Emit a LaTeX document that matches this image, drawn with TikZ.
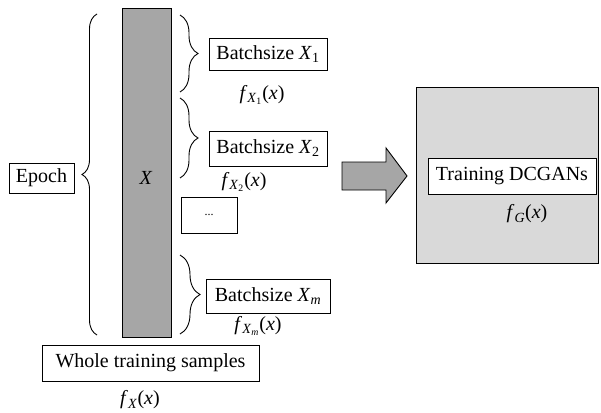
\documentclass[tikz,border=0pt]{standalone}
\usepackage{fontspec}
\setmainfont{Liberation Serif}
\usetikzlibrary{decorations.pathreplacing}

% f with a (possibly nested) italic subscript, set in text fonts
\newcommand{\fsub}[2]{\textit{f}\textsubscript{\textit{#1}\textsubscript{#2}}(\textit{x})}

\definecolor{colgray}{HTML}{A6A6A6}
\definecolor{arrowgray}{HTML}{A6A6A6}
\definecolor{panelgray}{HTML}{D9D9D9}

\tikzset{
  every node/.style={font=\fontsize{20}{24}\selectfont},
  tbox/.style={draw, fill=white, line width=0.9pt, inner sep=0pt, anchor=center},
  flabel/.style={inner sep=0pt, anchor=center},
  bracket/.style={decorate, line width=0.9pt},
}

\begin{document}
\begin{tikzpicture}[x=1pt, y=-1pt]
  \useasboundingbox (0,0) rectangle (601,412);

  % left side: epoch, the data column and the batches
  \node[tbox, minimum width=65, minimum height=30] (epoch) at (41.5,178) {Epoch};
  \node[draw, fill=colgray, line width=0.9pt, minimum width=49, minimum height=329, inner sep=0pt]
        (col) at (146.5,172.5) {};
  \node[flabel] (xlab) at (146,178) {\textit{X}};

  \node[tbox, minimum width=118, minimum height=32] (b1) at (268,54)
        {Batchsize \textit{X}\textsubscript{1}};
  \node[flabel] (f1) at (262,95) {\fsub{X}{1}};

  \node[tbox, minimum width=118, minimum height=35] (b2) at (268,148.5)
        {Batchsize \textit{X}\textsubscript{2}};
  \node[flabel] (f2) at (244,182) {\fsub{X}{2}};

  \node[tbox, minimum width=56, minimum height=36] (dots) at (209,215) {\fontsize{12}{14}\selectfont ...};

  \node[tbox, minimum width=124, minimum height=34] (bm) at (268,296)
        {Batchsize \textit{X}\textsubscript{\textit{m}}};
  \node[flabel] (fm) at (258,326) {\fsub{X}{\textit{m}}};

  \node[tbox, minimum width=217, minimum height=36] (whole) at (150.5,363)
        {Whole training samples};
  \node[flabel] (fx) at (140,400) {\textit{f}\textsubscript{\textit{X}}(\textit{x})};

  % braces
  \coordinate (eb) at (97,335);
  \coordinate (et) at (97,14);
  \draw[bracket, decoration={brace, amplitude=15pt}] (eb) -- (et);
  \coordinate (b1t) at (180,15);
  \coordinate (b1b) at (180,92);
  \draw[bracket, decoration={brace, amplitude=18pt}] (b1t) -- (b1b);
  \coordinate (b2t) at (180,98);
  \coordinate (b2b) at (180,178);
  \draw[bracket, decoration={brace, amplitude=18pt}] (b2t) -- (b2b);
  \coordinate (bmt) at (180,255);
  \coordinate (bmb) at (180,334);
  \draw[bracket, decoration={brace, amplitude=20pt}] (bmt) -- (bmb);

  % block arrow
  \draw[fill=arrowgray, line width=0.9pt, line join=miter]
    (342,162) -- (386,162) -- (386,148) -- (407,176) -- (386,203) -- (386,190) -- (342,190) -- cycle;

  % right panel
  \node[draw, fill=panelgray, line width=0.9pt, minimum width=182, minimum height=176, inner sep=0pt]
        (panel) at (507,175) {};
  \node[tbox, minimum width=168, minimum height=36] (gan) at (512,176) {Training DCGANs};
  \node[flabel] (fg) at (527,214) {\textit{f}\textsubscript{\textit{G}}(\textit{x})};
\end{tikzpicture}
\end{document}
